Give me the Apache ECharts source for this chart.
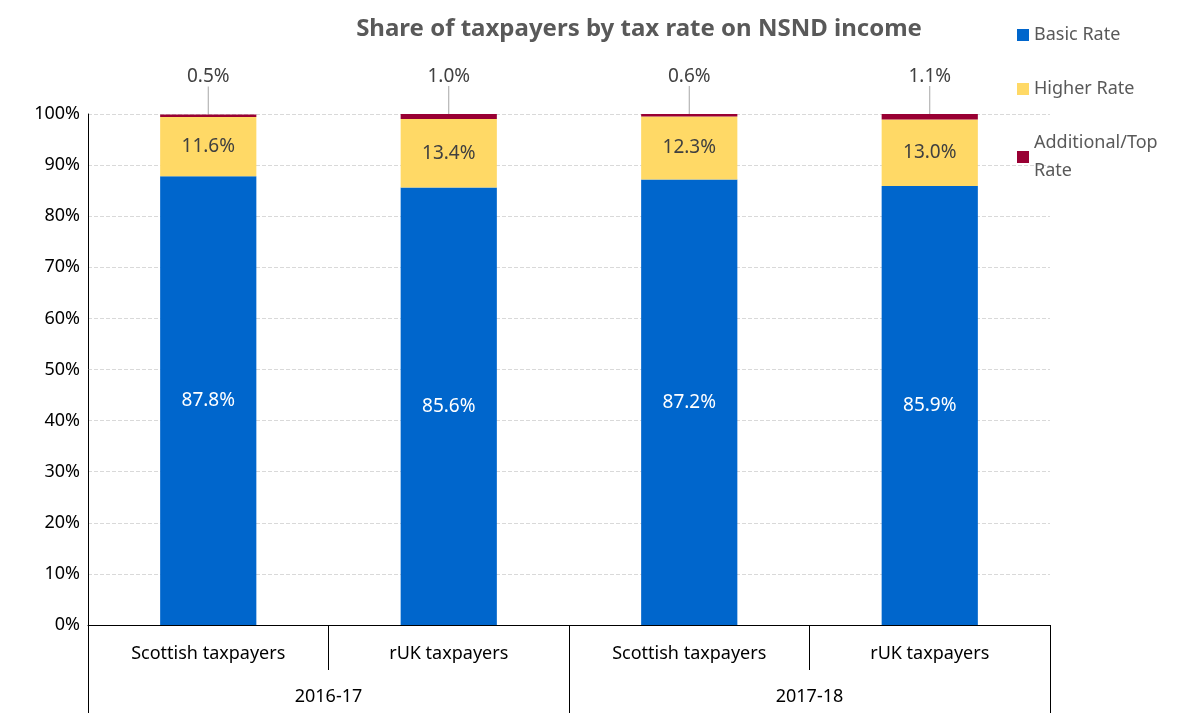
<!DOCTYPE html>
<html><head><meta charset="utf-8">
<script src="https://cdn.jsdelivr.net/npm/echarts@6/dist/echarts.min.js"></script>
<style>html,body{margin:0;padding:0;background:#fff}#c{width:1181px;height:713px}</style>
</head><body><div id="c"></div>
<script>
const categories = ['Scottish taxpayers','rUK taxpayers','Scottish taxpayers','rUK taxpayers'];
const groups = ['2016-17','2017-18'];
const basic = [87.8, 85.6, 87.2, 85.9];
const higher = [11.6, 13.4, 12.3, 13.0];
const additional = [0.5, 1.0, 0.6, 1.1];
const font = '"Noto Sans", sans-serif';
const chart = echarts.init(document.getElementById('c'));
chart.setOption({
  textStyle:{fontFamily:font},
  animation:false,
  title:{text:'Share of taxpayers by tax rate on NSND income', left:634, textAlign:'center', top:12,
    textStyle:{fontSize:24, fontWeight:'bold', color:'#595959', fontFamily:font}},
  legend:{orient:'vertical', left:1012, top:16, itemWidth:12, itemHeight:12, itemGap:26, icon:'rect',
    textStyle:{fontSize:18, color:'#595959', lineHeight:28, fontFamily:font},
    data:['Basic Rate','Higher Rate','Additional/Top\nRate']},
  grid:{left:88, right:131, top:114, bottom:88},
  xAxis:[
    {type:'category', data:categories, position:'bottom',
     axisLine:{lineStyle:{color:'#000'}}, axisTick:{show:true, interval:0, alignWithLabel:false, length:45, lineStyle:{color:'#000'}},
     axisLabel:{fontSize:18, color:'#000', margin:20, interval:0}},
    {type:'category', data:groups, position:'bottom', offset:45,
     axisLine:{show:false}, axisTick:{show:true, interval:0, length:43, lineStyle:{color:'#000'}},
     axisLabel:{fontSize:18, color:'#000', margin:18, interval:0}}
  ],
  yAxis:{type:'value', min:0, max:100, interval:10,
    axisLabel:{formatter:'{value}%', fontSize:18, color:'#000', margin:8},
    axisLine:{show:true, lineStyle:{color:'#000'}},
    splitLine:{lineStyle:{color:'#d9d9d9', type:'dashed'}}},
  series:[
    {name:'Basic Rate', type:'bar', stack:'s', barWidth:'40%', data:basic, itemStyle:{color:'#0066cc'},
     label:{show:true, position:'inside', formatter:p=>p.value.toFixed(1)+'%', fontSize:19, color:'#fff'}},
    {name:'Higher Rate', type:'bar', stack:'s', data:higher, itemStyle:{color:'#ffd966'},
     label:{show:true, position:'inside', formatter:p=>p.value.toFixed(1)+'%', fontSize:19, color:'#404040'}},
    {name:'Additional/Top\nRate', type:'bar', stack:'s', data:additional, itemStyle:{color:'#990033'},
     label:{show:true, position:'top', distance:4, formatter:p=>p.value.toFixed(1)+'%', fontSize:19, color:'#404040'},
     labelLayout:{dy:-24}, labelLine:{show:true, lineStyle:{color:'#a6a6a6', width:1}}}
  ]
});
</script></body></html>
